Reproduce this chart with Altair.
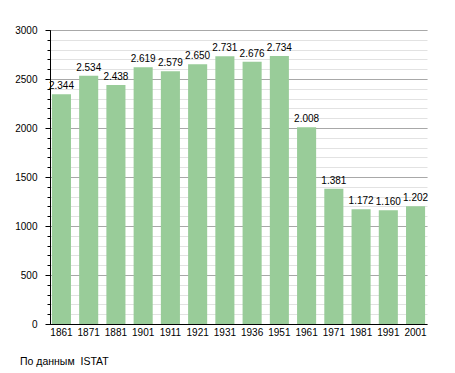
import altair as alt
import pandas as pd

years = ["1861", "1871", "1881", "1901", "1911", "1921", "1931", "1936", "1951", "1961", "1971", "1981", "1991", "2001"]
population = [2344, 2534, 2438, 2619, 2579, 2650, 2731, 2676, 2734, 2008, 1381, 1172, 1160, 1202]
labels = ["2.344", "2.534", "2.438", "2.619", "2.579", "2.650", "2.731", "2.676", "2.734", "2.008", "1.381", "1.172", "1.160", "1.202"]
major_ticks = [0, 500, 1000, 1500, 2000, 2500, 3000]
minor_ticks = [v for v in range(0, 3001, 100)]
source = "По данным\u00a0\u00a0ISTAT"

df = pd.DataFrame({"year": years, "pop": population, "label": labels})

FONT = "Liberation Sans"

x_enc = alt.X("year:N", sort=years, title=None,
              scale=alt.Scale(paddingInner=0.3, paddingOuter=0.07),
              axis=alt.Axis(labelAngle=0, ticks=False, domainColor="black",
                            labelFont=FONT, labelFontSize=10, labelColor="black",
                            labelPadding=3, grid=False))

y_scale = alt.Scale(domain=[0, 3000], nice=False)

bars = alt.Chart(df).mark_bar(color="#99cc99").encode(
    x=x_enc,
    y=alt.Y("pop:Q", scale=y_scale, title=None,
            axis=alt.Axis(orient="left", values=minor_ticks, labels=False, tickSize=3,
                          tickColor="black", domain=False, grid=True,
                          gridColor="#e2e2e2", gridWidth=1)),
)

text = alt.Chart(df).mark_text(baseline="bottom", dy=-3, font=FONT, fontSize=10, color="black").encode(
    x=alt.X("year:N", sort=years),
    y=alt.Y("pop:Q", scale=y_scale, title=None,
            axis=alt.Axis(orient="left", values=major_ticks, format="d", tickSize=5,
                          tickColor="black", domainColor="black", labelFont=FONT,
                          labelFontSize=10, labelColor="black", labelPadding=8, grid=True,
                          gridColor="#a8a8a8", gridWidth=1)),
    text="label:N",
)

chart = alt.layer(bars, text).resolve_axis(y="independent").properties(
    width=377, height=294,
    padding={"left": 42, "top": 22, "right": 20, "bottom": 55},
    autosize="none",
    title=alt.TitleParams(source, orient="bottom", anchor="start", frame="group",
                          dx=-30, offset=20, font=FONT, fontSize=10.5, fontWeight="normal",
                          color="black"),
).configure_view(stroke=None)

chart.save("out.html", embed_options={"renderer": "svg", "actions": False})
